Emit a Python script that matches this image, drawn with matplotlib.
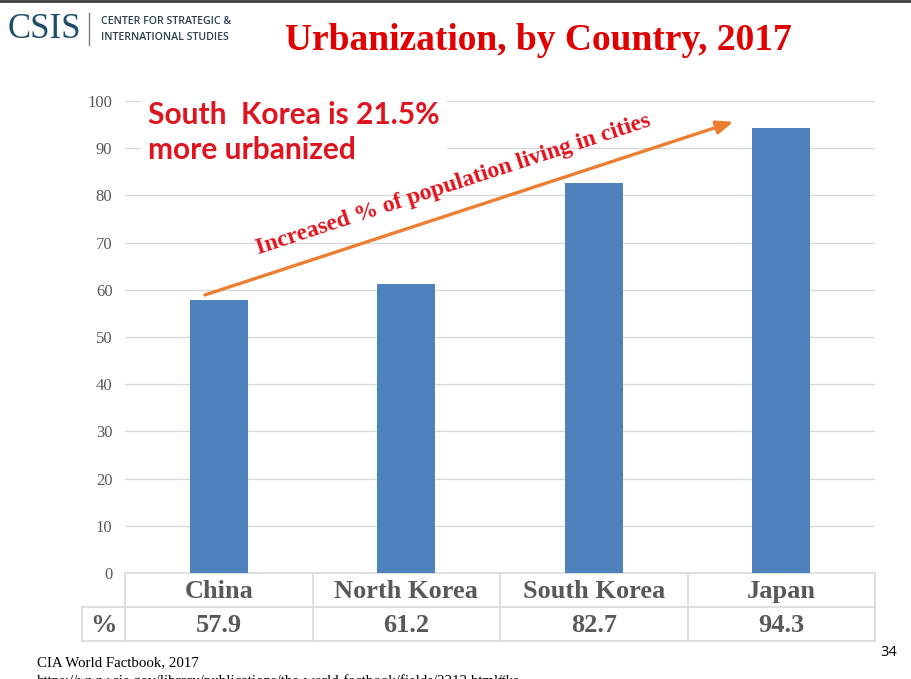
import matplotlib.pyplot as plt
from matplotlib.lines import Line2D
import matplotlib.transforms as mtransforms

countries = ["China", "North Korea", "South Korea", "Japan"]
urban_pct = [57.9, 61.2, 82.7, 94.3]
y_ticks = [0, 10, 20, 30, 40, 50, 60, 70, 80, 90, 100]

title = "Urbanization, by Country, 2017"
note = "South  Korea is 21.5%\nmore urbanized"
trend_label = "Increased % of population living in cities"
source = "CIA World Factbook, 2017"
url = "https://www.cia.gov/library/publications/the-world-factbook/fields/2212.html#ks"

SERIF = "Liberation Serif"
SANS = "Lato"
RED = "#E0141E"
GRAY = "#595959"
GRID = "#D9D9D9"

fig = plt.figure(figsize=(9.12, 6.79), dpi=100)
ax = fig.add_axes([125 / 912, 0.1561, 750 / 912, 0.6952])

x = range(len(countries))
ax.bar(x, urban_pct, width=0.31, color="#4F81BD", zorder=3)

ax.set_xlim(-0.5, 3.5)
ax.set_ylim(0, 100)
ax.set_yticks(y_ticks)
ax.set_yticklabels([str(t) for t in y_ticks], fontfamily=SERIF, fontsize=12, color=GRAY)
ax.set_xticks([])
ax.tick_params(axis="y", length=0, pad=9)
ax.yaxis.grid(True, color=GRID, linewidth=1, zorder=0)
for s in ax.spines.values():
    s.set_visible(False)

# table under the axis
blend = mtransforms.blended_transform_factory(ax.transData, ax.transAxes)
row1, row2 = -0.072, -0.144
left = -0.73
ax.add_line(Line2D([-0.5, 3.5], [0, 0], transform=blend, color=GRID, lw=1.2, clip_on=False))
for yy in (row1, row2):
    ax.add_line(Line2D([left, 3.5], [yy, yy], transform=blend, color=GRID, lw=1.2, clip_on=False))
ax.add_line(Line2D([left, left], [row1, row2], transform=blend, color=GRID, lw=1.2, clip_on=False))
for xb in (-0.5, 0.5, 1.5, 2.5, 3.5):
    ax.add_line(Line2D([xb, xb], [0, row2], transform=blend, color=GRID, lw=1.2, clip_on=False))

for i, (c, v) in enumerate(zip(countries, urban_pct)):
    ax.text(i, row1 / 2 - 0.004, c, transform=blend, ha="center", va="center",
            fontfamily=SERIF, fontweight="bold", fontsize=19, color=GRAY)
    ax.text(i, (row1 + row2) / 2 - 0.004, f"{v:.1f}", transform=blend, ha="center", va="center",
            fontfamily=SERIF, fontweight="bold", fontsize=19, color=GRAY)
ax.text((left - 0.5) / 2, (row1 + row2) / 2 - 0.004, "%", transform=blend, ha="center", va="center",
        fontfamily=SERIF, fontweight="bold", fontsize=19, color=GRAY)

# note box (white background hides gridlines)
ax.text(0.031, 1.0, note, transform=ax.transAxes, ha="left", va="top",
        fontfamily=SANS, fontweight="bold", fontsize=21.5, color=RED,
        linespacing=1.3, zorder=4,
        bbox=dict(boxstyle="square,pad=0.25", fc="white", ec="none"))

# trend arrow
ax.annotate("", xy=(2.745, 95.6), xytext=(-0.074, 58.9),
            arrowprops=dict(arrowstyle="-|>,head_length=1.0,head_width=0.4",
                            color="#ED7D31", lw=2.4, shrinkA=0, shrinkB=0),
            zorder=5)
ax.text(1.25, 82.3, trend_label, rotation=18.1, rotation_mode="anchor",
        ha="center", va="center", fontfamily=SERIF, fontweight="bold",
        fontsize=17, color=RED, zorder=6)

# header
fig.text(0.59, 0.941, title, ha="center", va="center", fontfamily=SERIF,
         fontweight="bold", fontsize=27, color="#E00000")
fig.text(0.008, 0.957, "CSIS", ha="left", va="center", fontfamily=SERIF,
         fontsize=25, color="#1F4E6B")
fig.add_artist(Line2D([89 / 912, 89 / 912], [1 - 13 / 679, 1 - 45 / 679],
                      color="#7F7F7F", lw=1))
fig.text(101 / 912, 1 - 22 / 679, "CENTER FOR STRATEGIC &", ha="left", va="center",
         fontfamily="Open Sans", fontweight="semibold", fontsize=7.6, color="#2F3F4F")
fig.text(101 / 912, 1 - 37 / 679, "INTERNATIONAL STUDIES", ha="left", va="center",
         fontfamily="Open Sans", fontweight="semibold", fontsize=7.6, color="#2F3F4F")
fig.add_artist(Line2D([0, 1], [0.998, 0.998], color="#404040", lw=2))

# footer
fig.text(37 / 912, 1 - 663 / 679, source, ha="left", va="center",
         fontfamily=SERIF, fontsize=10.7, color="black")
fig.text(37 / 912, 1 - 681 / 679, url, ha="left", va="center",
         fontfamily=SERIF, fontsize=10.7, color="black")
fig.text(880 / 912, 1 - 652 / 679, "34", ha="left", va="center",
         fontfamily="Open Sans", fontsize=10.5, color="black")

fig.savefig("out.png", dpi=100)
